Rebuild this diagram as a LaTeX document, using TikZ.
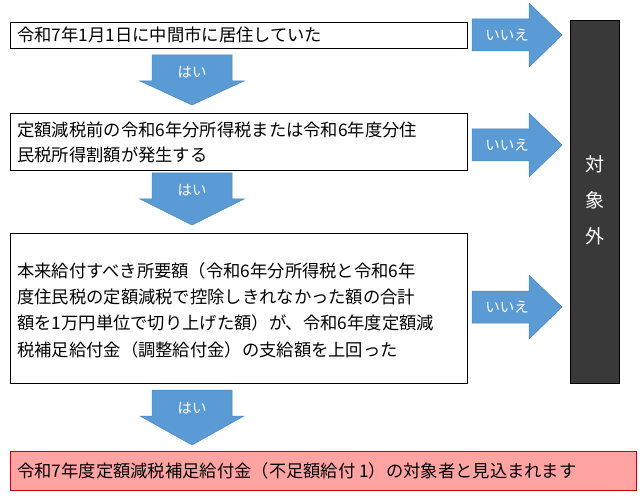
\documentclass[tikz,border=0pt]{standalone}
\usepackage{fontspec}
\setmainfont{Noto Sans CJK JP}
\definecolor{ab}{HTML}{5B9BD5}
\definecolor{abd}{HTML}{4A86C0}
\definecolor{dk}{HTML}{3A3939}
\definecolor{pk}{HTML}{FFA3A3}
\begin{document}
\begin{tikzpicture}[x=1pt,y=-1pt,
 arr/.style={fill=ab,draw=abd,line width=0.5pt},
 lab/.style={text=white,font=\fontsize{14.5}{16}\selectfont}]
\useasboundingbox (0,0) rectangle (644,502);
\def\downarr#1#2{\draw[arr] (152,#1) -- (232,#1) -- (232,#1+26) -- (244,#1+26) -- (192,#2) -- (140,#1+26) -- (152,#1+26) -- cycle;}
\def\rightarr#1{\draw[arr] (472,#1-16) -- (529,#1-16) -- (529,#1-32) -- (562,#1) -- (529,#1+32) -- (529,#1+16) -- (472,#1+16) -- cycle;}
% boxes
\draw[line width=0.8pt] (10,22) rectangle (467,48);
\node[anchor=west,inner sep=0pt,font=\fontsize{17.3}{18}\selectfont] (b1) at (17,35) {令和7年1月1日に中間市に居住していた};
\draw[line width=0.8pt] (10,113) rectangle (467,170);
\node[anchor=west,inner sep=0pt,align=left,font=\fontsize{17.3}{25}\selectfont] (b2) at (17,142) {定額減税前の令和6年分所得税または令和6年度分住\\民税所得割額が発生する};
\draw[line width=0.8pt] (10,233) rectangle (467,383);
\node[anchor=west,inner sep=0pt,align=left,font=\fontsize{17.3}{26.3}\selectfont] (b3) at (17,310) {本来給付すべき所要額（令和6年分所得税と令和6年\\度住民税の定額減税で控除しきれなかった額の合計\\額を1万円単位で切り上げた額）が、令和6年度定額減\\税補足給付金（調整給付金）の支給額を上回った};
\draw[draw=red!80!black,fill=pk,line width=0.8pt] (10,451) rectangle (636,490);
\node[anchor=west,inner sep=0pt,font=\fontsize{17.3}{18}\selectfont] (b4) at (17,470.5) {令和7年度定額減税補足給付金（不足額給付 1）の対象者と見込まれます};
% dark box
\draw[fill=dk,draw=black,line width=0.8pt] (570,20) rectangle (619,383);
\node[text=white,align=center,font=\fontsize{19}{36}\selectfont] (ex) at (594.5,200) {対\\象\\外};
% down arrows
\downarr{55}{105}\node[lab] (h1) at (192,72) {はい};
\downarr{173}{225}\node[lab] (h2) at (192,190) {はい};
\downarr{390}{445}\node[lab] (h3) at (192,408) {はい};
% right arrows
\rightarr{35}\node[lab] (n1) at (507,35) {いいえ};
\rightarr{145}\node[lab] (n2) at (507,145) {いいえ};
\rightarr{307}\node[lab] (n3) at (507,307) {いいえ};
\end{tikzpicture}
\end{document}
